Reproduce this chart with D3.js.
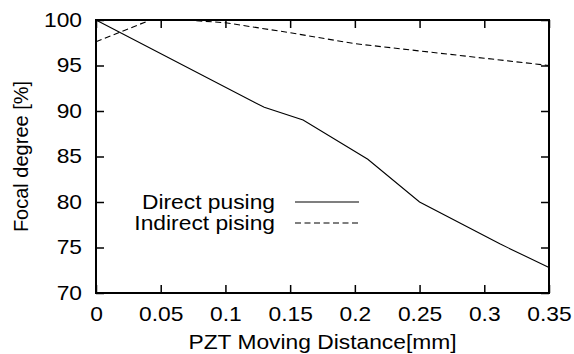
<!DOCTYPE html>
<html>
<head>
<meta charset="utf-8">
<script src="https://cdn.jsdelivr.net/npm/d3@7"></script>
<style>
  body { margin: 0; background: #fff; }
  text { font-family: "Liberation Sans", Arial, sans-serif; fill: #000; }
</style>
</head>
<body>
<div id="chart"></div>
<script>
// data
var directX = [0, 0.13, 0.16, 0.21, 0.25, 0.312, 0.35];
var directY = [100, 90.4, 89.0, 84.7, 80.0, 75.4, 72.8];
var indirectX = [0, 0.042, 0.07, 0.1, 0.15, 0.2, 0.25, 0.3, 0.35];
var indirectY = [97.6, 100, 100, 99.7, 98.6, 97.4, 96.6, 95.8, 95.0];
var xTicks = [0, 0.05, 0.1, 0.15, 0.2, 0.25, 0.3, 0.35];
var yTicks = [70, 75, 80, 85, 90, 95, 100];
var seriesNames = ["Direct pusing", "Indirect pising"];

var svgWidth = 574, svgHeight = 354;
var margin = { top: 20, right: 25, bottom: 61, left: 96 };
var width = svgWidth - margin.left - margin.right;
var height = svgHeight - margin.top - margin.bottom;

var fontSize = 20;
var stretch = 1.14; // the original text is a bit wider than it is tall
var dash = "6,3.5";

var svg = d3.select("#chart").append("svg")
  .attr("width", svgWidth)
  .attr("height", svgHeight);

var g = svg.append("g")
  .attr("transform", `translate(${margin.left}, ${margin.top})`);

var x = d3.scaleLinear().domain([0, 0.35]).range([0, width]);
var y = d3.scaleLinear().domain([70, 100]).range([height, 0]);

var fmtX = d => d === 0 ? "0" : String(+d.toFixed(2));

// bottom axis with labels, ticks pointing inward
g.append("g")
  .attr("transform", `translate(0, ${height})`)
  .call(d3.axisBottom(x).tickValues(xTicks).tickFormat(fmtX).tickSizeInner(-8).tickSizeOuter(0).tickPadding(14))
  .call(a => a.select(".domain").remove())
  .call(a => a.selectAll("line").attr("stroke-width", 1.5))
  .call(a => a.selectAll("text")
    .attr("font-size", fontSize)
    .attr("font-family", "Liberation Sans, Arial, sans-serif")
    .attr("transform", `scale(${stretch},1)`));

// top mirrored ticks
g.append("g")
  .call(d3.axisTop(x).tickValues(xTicks).tickFormat("").tickSizeInner(-8).tickSizeOuter(0))
  .call(a => a.select(".domain").remove())
  .call(a => a.selectAll("line").attr("stroke-width", 1.5));

// left axis
g.append("g")
  .call(d3.axisLeft(y).tickValues(yTicks).tickSizeInner(-8).tickSizeOuter(0))
  .call(a => a.select(".domain").remove())
  .call(a => a.selectAll("line").attr("stroke-width", 1.5))
  .call(a => a.selectAll("text")
    .attr("font-size", fontSize)
    .attr("font-family", "Liberation Sans, Arial, sans-serif")
    .attr("x", -14 / stretch)
    .attr("transform", `scale(${stretch},1)`));

// right mirrored ticks
g.append("g")
  .attr("transform", `translate(${width}, 0)`)
  .call(d3.axisRight(y).tickValues(yTicks).tickFormat("").tickSizeInner(-8).tickSizeOuter(0))
  .call(a => a.select(".domain").remove())
  .call(a => a.selectAll("line").attr("stroke-width", 1.5));

// frame
g.append("rect")
  .attr("width", width)
  .attr("height", height)
  .attr("fill", "none")
  .attr("stroke", "#000")
  .attr("stroke-width", 2);

var line = d3.line().x(d => x(d[0])).y(d => y(d[1]));

var directData = directX.map((d, i) => [d, directY[i]]);
var indirectData = indirectX.map((d, i) => [d, indirectY[i]]);

g.append("path")
  .datum(directData)
  .attr("d", line)
  .attr("fill", "none")
  .attr("stroke", "#000")
  .attr("stroke-width", 1.1);

g.append("path")
  .datum(indirectData)
  .attr("d", line)
  .attr("fill", "none")
  .attr("stroke", "#000")
  .attr("stroke-width", 1.1)
  .attr("stroke-dasharray", dash);

// legend
var legend = svg.append("g");
seriesNames.forEach(function (name, i) {
  var ly = 202 + i * 21;
  legend.append("text")
    .attr("transform", `translate(275, ${ly}) scale(${stretch},1)`)
    .attr("dy", "0.35em")
    .attr("text-anchor", "end")
    .attr("font-size", fontSize)
    .text(name);
  legend.append("line")
    .attr("x1", 295).attr("x2", 359)
    .attr("y1", ly).attr("y2", ly)
    .attr("stroke", "#000")
    .attr("stroke-width", 1.1)
    .attr("stroke-dasharray", i === 1 ? dash : null);
});

// axis titles
svg.append("text")
  .attr("transform", `translate(${margin.left + width / 2}, 349) scale(${stretch},1)`)
  .attr("text-anchor", "middle")
  .attr("font-size", fontSize)
  .text("PZT Moving Distance[mm]");

svg.append("text")
  .attr("transform", `translate(28, ${margin.top + height / 2}) rotate(-90)`)
  .attr("text-anchor", "middle")
  .attr("font-size", fontSize)
  .text("Focal degree [%]");
</script>
</body>
</html>
